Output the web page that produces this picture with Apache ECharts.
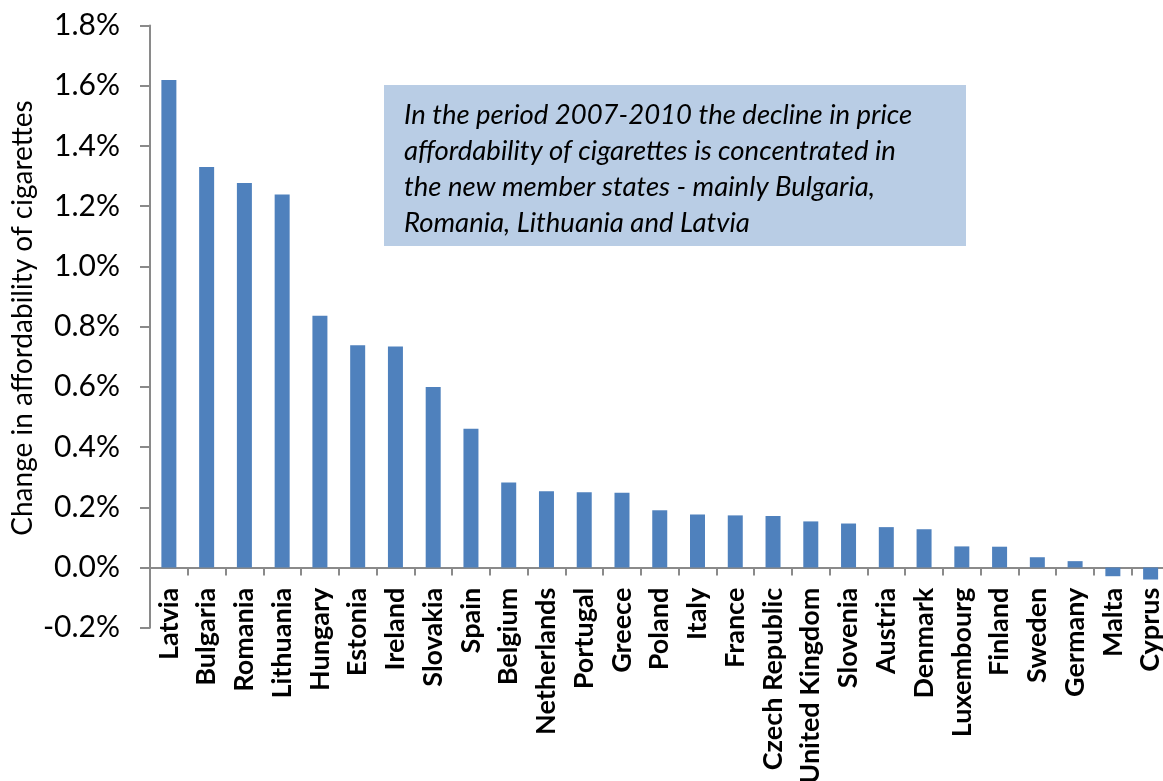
<!DOCTYPE html>
<html>
<head>
<meta charset="utf-8">
<script src="https://cdn.jsdelivr.net/npm/echarts@6/dist/echarts.min.js"></script>
<style>
  html, body { margin: 0; padding: 0; background: #ffffff; }
  #chart { width: 1163px; height: 781px; }
</style>
</head>
<body>
<div id="chart"></div>
<script>
// Change in price affordability of cigarettes, 2007-2010, by EU member state (percent)
const countries = [
  'Latvia', 'Bulgaria', 'Romania', 'Lithuania', 'Hungary', 'Estonia', 'Ireland',
  'Slovakia', 'Spain', 'Belgium', 'Netherlands', 'Portugal', 'Greece', 'Poland',
  'Italy', 'France', 'Czech Republic', 'United Kingdom', 'Slovenia', 'Austria',
  'Denmark', 'Luxembourg', 'Finland', 'Sweden', 'Germany', 'Malta', 'Cyprus'
];
const affordabilityChange = [
  1.619, 1.330, 1.277, 1.239, 0.836, 0.738, 0.734,
  0.599, 0.461, 0.282, 0.253, 0.250, 0.248, 0.190,
  0.176, 0.173, 0.171, 0.153, 0.146, 0.134,
  0.127, 0.070, 0.069, 0.034, 0.021, -0.029, -0.040
];
const yMin = -0.2;
const yMax = 1.8;
const yStep = 0.2;
const yTitle = 'Change in affordability of cigarettes';
const noteText = [
  'In the period 2007-2010 the decline in price',
  'affordability of cigarettes is concentrated in',
  'the new member states - mainly Bulgaria,',
  'Romania, Lithuania and Latvia'
];

const FONT = 'Lato, "Open Sans", sans-serif';
const AXIS_GREY = '#8a8a8a';

const chart = echarts.init(document.getElementById('chart'), null, { renderer: 'canvas' });

chart.setOption({
  animation: false,
  backgroundColor: '#ffffff',
  grid: {
    left: 150,
    top: 25.5,
    width: 1019.5,
    height: 602.2,
    containLabel: false,
    outerBoundsMode: 'none'
  },
  xAxis: {
    type: 'category',
    data: countries,
    axisLine: { onZero: true, lineStyle: { color: AXIS_GREY, width: 2 } },
    axisTick: { show: true, length: 8, alignWithLabel: false, lineStyle: { color: AXIS_GREY, width: 2 } },
    axisLabel: {
      interval: 0,
      rotate: 90,
      // labels sit just under the zero line rather than under the -0.2% edge
      margin: -40,
      color: '#000000',
      fontFamily: FONT,
      fontWeight: 'bold',
      fontSize: 27
    },
    splitLine: { show: false }
  },
  yAxis: {
    type: 'value',
    min: yMin,
    max: yMax,
    interval: yStep,
    axisLine: { show: true, lineStyle: { color: AXIS_GREY, width: 2 } },
    axisTick: { show: true, length: 10, lineStyle: { color: AXIS_GREY, width: 2 } },
    axisLabel: {
      margin: 30,
      color: '#000000',
      fontFamily: FONT,
      fontSize: 30,
      formatter: v => v.toFixed(1) + '%'
    },
    splitLine: { show: false }
  },
  series: [{
    type: 'bar',
    data: affordabilityChange,
    barWidth: 15,
    itemStyle: { color: '#4f81bd' }
  }],
  graphic: [
    {
      type: 'text',
      x: 23,
      y: 318,
      rotation: Math.PI / 2,
      style: {
        text: yTitle,
        fill: '#000000',
        font: '28px ' + FONT,
        align: 'center',
        verticalAlign: 'middle'
      }
    },
    {
      type: 'rect',
      shape: { x: 384, y: 85, width: 582, height: 161 },
      style: { fill: '#b9cde5' },
      z: 10
    },
    {
      type: 'text',
      x: 404,
      y: 97,
      z: 11,
      style: {
        text: noteText.join('\n'),
        fill: '#000000',
        font: 'italic 27.5px ' + FONT,
        lineHeight: 36,
        align: 'left',
        verticalAlign: 'top'
      }
    }
  ]
});
</script>
</body>
</html>
